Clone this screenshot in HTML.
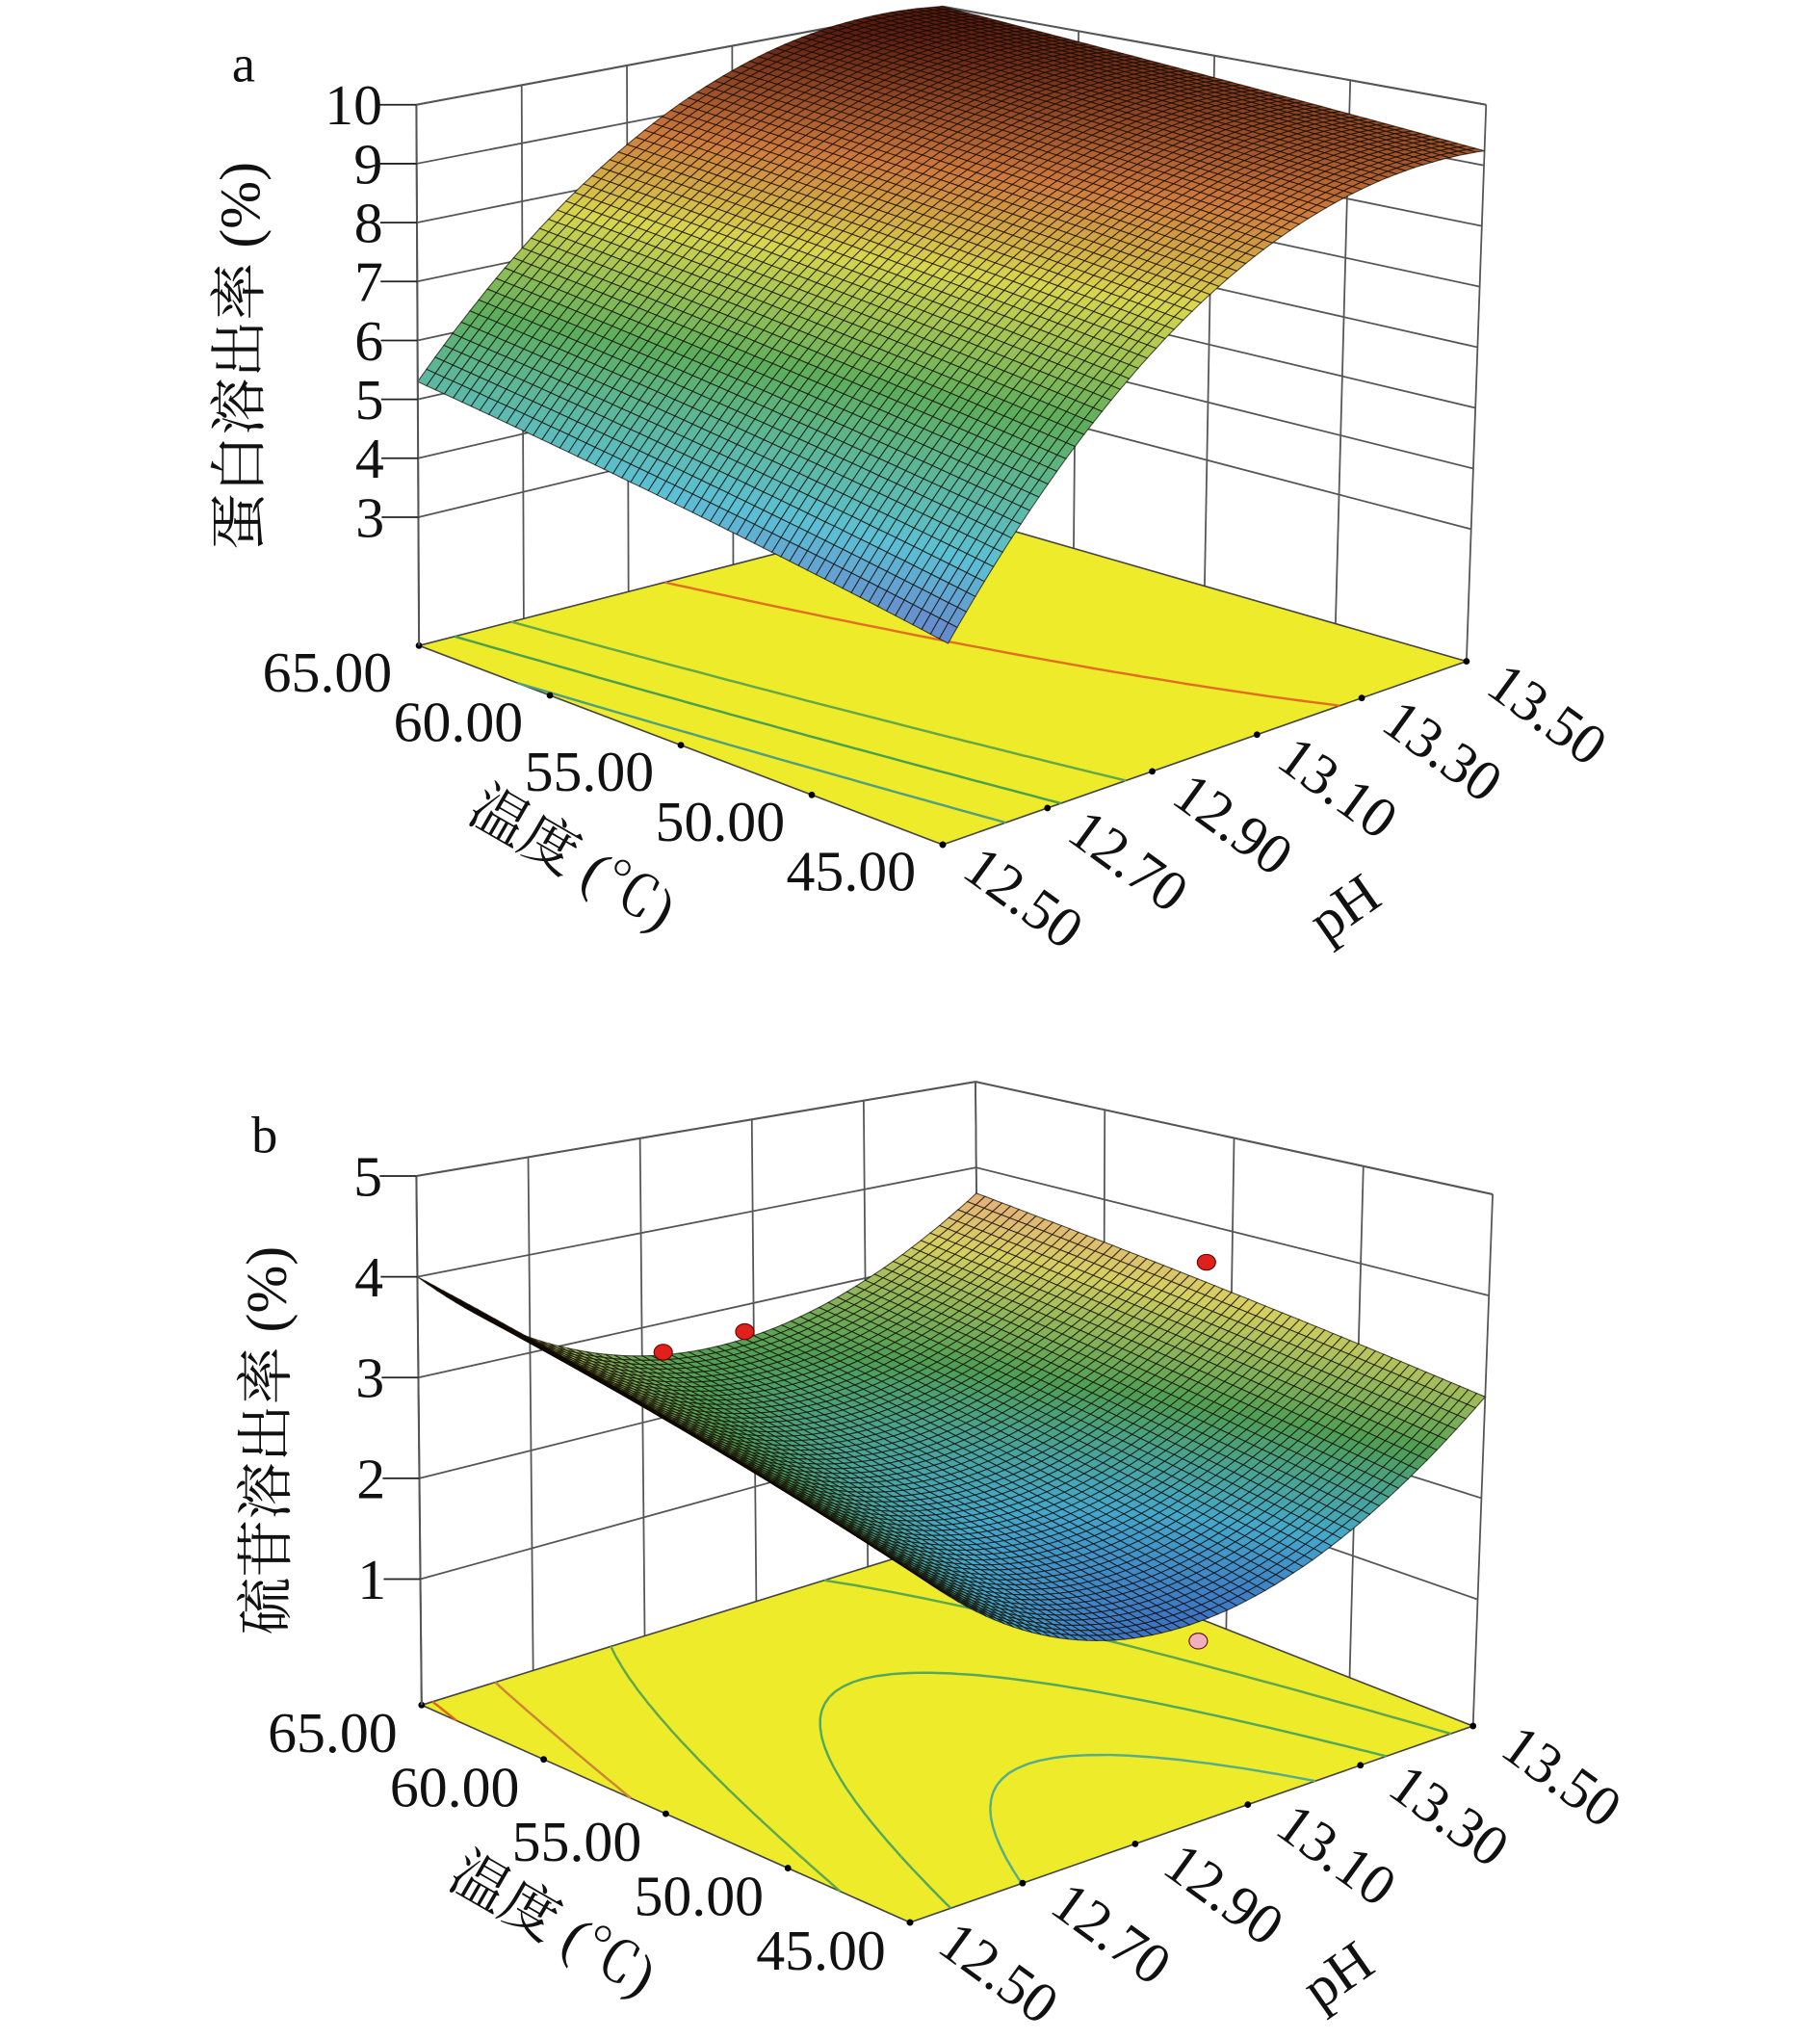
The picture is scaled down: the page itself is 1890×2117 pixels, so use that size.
<!DOCTYPE html>
<html><head><meta charset="utf-8">
<style>
html,body{margin:0;padding:0;background:#fff;}
svg{display:block;}
text{font-family:"Liberation Serif","Noto Serif CJK SC","Noto Sans CJK SC",serif;fill:#111;}
</style></head>
<body>
<svg id="fig" width="1890" height="2117" viewBox="0 0 1390 1557" preserveAspectRatio="none" xmlns="http://www.w3.org/2000/svg">
<rect width="1390" height="1557" fill="#fff"/>
</svg>
<script>
// ---- data ----
const phTicks = [12.50, 12.70, 12.90, 13.10, 13.30, 13.50];
const tempTicks = [45.00, 50.00, 55.00, 60.00, 65.00];
const zTicksA = [3, 4, 5, 6, 7, 8, 9, 10];
const zTicksB = [1, 2, 3, 4, 5];
// response-surface model coefficients: [b0, b1(pH), b2(T), b11, b22, b12]
const coefA = [8.56, 2.56, 0.59, -1.5, 0, -0.21];
const coefB = [2.1, 0.025, 0.525, 1.225, 0, -0.175];
const contourLevelsA = [5, 6, 7, 9];
const contourLevelsB = [1.9, 2.3, 2.8, 3.4, 3.9];
const pointsB = [[12.62, 58, 3.6, 0], [12.72, 57, 3.75, 0], [13.5, 56, 3.6, 0], [13.0, 45, 1.4, 1]];

const svg = document.getElementById('fig');
const NS = 'http://www.w3.org/2000/svg';
function mk(tag, attrs, parent){const e=document.createElementNS(NS,tag);for(const k in attrs)e.setAttribute(k,attrs[k]);(parent||svg).appendChild(e);return e;}

function cmap(stops,t){t=Math.max(0,Math.min(1,t));for(let i=1;i<stops.length;i++){if(t<=stops[i][0]){const a=stops[i-1],b=stops[i];const f=(t-a[0])/(b[0]-a[0]);const ca=hex(a[1]),cb=hex(b[1]);return 'rgb('+ca.map((c,j)=>Math.round(c+(cb[j]-c)*f)).join(',')+')';}}return stops[stops.length-1][1];}
function hex(h){return [1,3,5].map(i=>parseInt(h.substr(i,2),16));}

function makePlot(cfg){
  const g = mk('g',{});
  
  
  const c=cfg.coef;
  const f=(x1,x2)=>c[0]+c[1]*x1+c[2]*x2+c[3]*x1*x1+c[4]*x2*x2+c[5]*x1*x2;
  const C=cfg.corners;
  function bil(a,b,l,bk,u,v){return [(1-u)*(1-v)*a[0]+u*(1-v)*b[0]+(1-u)*v*l[0]+u*v*bk[0],(1-u)*(1-v)*a[1]+u*(1-v)*b[1]+(1-u)*v*l[1]+u*v*bk[1]];}
  function P(u,v,w){const b=bil(C.F0,C.R0,C.L0,C.B0,u,v),t=bil(C.F1,C.R1,C.L1,C.B1,u,v);return [b[0]*(1-w)+t[0]*w,b[1]*(1-w)+t[1]*w];}
  const uOf=ph=>(ph-phTicks[0])/(phTicks[phTicks.length-1]-phTicks[0]);
  const vOf=t=>(t-tempTicks[0])/(tempTicks[tempTicks.length-1]-tempTicks[0]);
  const wOf=z=>(z-cfg.zlo)/(cfg.zhi-cfg.zlo);
  const line=(a,b,col,sw,name)=>{const e=mk('line',{x1:a[0],y1:a[1],x2:b[0],y2:b[1],stroke:col,'stroke-width':sw},g);return e;};
  const gc='#555';
  cfg.zTicks.forEach(z=>{const w=wOf(z);line(P(0,1,w),P(1,1,w),gc,1.3,'left-wall-gridline');line(P(1,1,w),P(1,0,w),gc,1.3,'right-wall-gridline');});
  phTicks.forEach(p=>{const u=uOf(p);line(P(u,1,0),P(u,1,1),gc,1.3,'left-wall-gridline');});
  tempTicks.forEach(t=>{const v=vOf(t);line(P(1,v,0),P(1,v,1),gc,1.3,'right-wall-gridline');});
  line(P(0,1,1),P(1,1,1),gc,1.5,'box-top-edge');line(P(1,1,1),P(1,0,1),gc,1.5,'box-top-edge');
  const fl=[P(0,0,0),P(1,0,0),P(1,1,0),P(0,1,0)];
  const floor=mk('polygon',{points:fl.map(p=>p.join(',')).join(' '),fill:'#eeec2a',stroke:'#444','stroke-width':1.2},g);
  
  
  const N=50;
  cfg.levels.forEach(L=>{
    let d='';
    for(let i=0;i<N;i++)for(let j=0;j<N;j++){
      const us=[i/N,(i+1)/N],vs=[j/N,(j+1)/N];
      const pts=[[us[0],vs[0]],[us[1],vs[0]],[us[1],vs[1]],[us[0],vs[1]]];
      const vals=pts.map(p=>f(p[0]*2-1,p[1]*2-1)-L);
      const cr=[];
      for(let k=0;k<4;k++){const a=vals[k],b=vals[(k+1)%4];if((a<0)!==(b<0)){const t=a/(a-b);const pa=pts[k],pb=pts[(k+1)%4];cr.push([pa[0]+(pb[0]-pa[0])*t,pa[1]+(pb[1]-pa[1])*t]);}}
      for(let k=0;k+1<cr.length;k+=2){const a=P(cr[k][0],cr[k][1],0),b=P(cr[k+1][0],cr[k+1][1],0);d+='M'+a[0].toFixed(1)+' '+a[1].toFixed(1)+'L'+b[0].toFixed(1)+' '+b[1].toFixed(1);}
    }
    const e=mk('path',{d:d,stroke:cmap(cfg.lstops,(L-cfg.cmin)/(cfg.cmax-cfg.cmin)),'stroke-width':1.8,fill:'none'},g);
    
    
  });
  tempTicks.forEach(t=>{const p=P(0,vOf(t),0);const e=mk('circle',{cx:p[0],cy:p[1],r:2.5,fill:'#000'},g);});
  phTicks.forEach(ph=>{const p=P(uOf(ph),0,0);const e=mk('circle',{cx:p[0],cy:p[1],r:2.5,fill:'#000'},g);});
  const M=60;const cells=[];
  const S=(i,j)=>{const u=i/M,v=j/M;const z=f(u*2-1,v*2-1);return P(u,v,wOf(z));};
  for(let i=0;i<M;i++)for(let j=0;j<M;j++){
    const q=[S(i,j),S(i+1,j),S(i+1,j+1),S(i,j+1)];
    const z=f((i+0.5)/M*2-1,(j+0.5)/M*2-1);
    let area=0;for(let k=0;k<4;k++){const a=q[k],b=q[(k+1)%4];area+=a[0]*b[1]-b[0]*a[1];}
    cells.push({q:q,z:z,depth:i+j,back:area*cfg.sign<0});
  }
  cells.sort((a,b)=>b.depth-a.depth);
  const sg=mk('g',{},g);
  
  
  cells.forEach(cl=>{
    const fill=cl.back?'#140a06':cmap(cfg.stops,(cl.z-cfg.cmin)/(cfg.cmax-cfg.cmin));
    const e=mk('polygon',{points:cl.q.map(p=>p[0].toFixed(1)+','+p[1].toFixed(1)).join(' '),fill:fill,stroke:'rgba(15,8,0,0.7)','stroke-width':0.8},sg);
    
    
  });
  (cfg.points||[]).forEach(pt=>{const p=P(uOf(pt[0]),vOf(pt[1]),wOf(pt[2]));const e=mk('ellipse',{cx:p[0],cy:p[1],rx:7,ry:6,fill:pt[3]?'#f0b0c0':'#e0201a',stroke:'#600','stroke-width':0.8},g);});
  line(P(0,1,0),P(0,1,1),gc,1.5,'z-axis-line');
  cfg.zTicks.forEach(z=>{const p=P(0,1,wOf(z));line([p[0]-28,p[1]],p,'#222',1.3,'z-tick');const t=mk('text',{x:p[0]-26,y:p[1]+15,'text-anchor':'end','font-size':44},g);t.textContent=z;});
  tempTicks.forEach(tv=>{const p=P(0,vOf(tv),0);const t=mk('text',{x:p[0]+cfg.tOff[0],y:p[1]+cfg.tOff[1]+15,'text-anchor':'middle','font-size':44},g);t.textContent=tv.toFixed(2);});
  phTicks.forEach(pv=>{const p=P(uOf(pv),0,0);const x=p[0]+cfg.pOff[0],y=p[1]+cfg.pOff[1];const t=mk('text',{x:x,y:y+15,'text-anchor':'middle','font-size':44,transform:'rotate(36 '+x+' '+y+')'},g);t.textContent=pv.toFixed(2);});
  const ttl=mk('text',{x:cfg.zTitle[0],y:cfg.zTitle[1],'text-anchor':'middle','font-size':44,transform:'rotate(-90 '+cfg.zTitle[0]+' '+cfg.zTitle[1]+')'},g);ttl.textContent=cfg.zTitleText;
  
  
  const tt=mk('text',{x:cfg.tTitle[0],y:cfg.tTitle[1],'text-anchor':'middle','font-size':44,transform:'rotate(30 '+cfg.tTitle[0]+' '+cfg.tTitle[1]+')'},g);tt.textContent='温度 (℃)';
  
  
  const pt=mk('text',{x:cfg.pTitle[0],y:cfg.pTitle[1],'text-anchor':'middle','font-size':44,transform:'rotate(-35 '+cfg.pTitle[0]+' '+cfg.pTitle[1]+')'},g);pt.textContent='pH';
  
  
  const pl=mk('text',{x:cfg.panel[0],y:cfg.panel[1],'text-anchor':'middle','font-size':40},g);pl.textContent=cfg.panelText;
  
  
}

makePlot({name:'chart-a',coef:coefA,zTicks:zTicksA,levels:contourLevelsA,zlo:0.82,zhi:10,cmin:3.3,cmax:10,sign:-1,
 stops:[[0,'#6e6cc8'],[0.2,'#5cc0d6'],[0.45,'#5cae5c'],[0.66,'#d8d64e'],[0.82,'#cf7a3c'],[1,'#5a1c10']],
 lstops:[[0,'#5aa0d0'],[0.4,'#4aa050'],[0.7,'#80b040'],[0.85,'#e07020'],[1,'#d05010']],
 corners:{F0:[720,645],R0:[1120,505],L0:[320,493],B0:[720,390],F1:[733,155],R1:[1135,80],L1:[318,80],B1:[720,5]},
 tOff:[-70,20],pOff:[62,40],zTitle:[198,272],zTitleText:'蛋白溶出率 (%)',tTitle:[430,668],pTitle:[1035,705],panel:[186,62],panelText:'a'});
makePlot({name:'chart-b',coef:coefB,zTicks:zTicksB,levels:contourLevelsB,zlo:-0.25,zhi:5,cmin:1.4,cmax:4.0,sign:-1,points:pointsB,
 stops:[[0,'#3a5cc0'],[0.22,'#44a8cc'],[0.45,'#4e9e54'],[0.72,'#d6d060'],[1,'#ec9890']],
 lstops:[[0,'#60b8d0'],[0.3,'#50a860'],[0.6,'#60a848'],[0.8,'#e08030'],[1,'#e06010']],
 corners:{F0:[695,1468],R0:[1125,1318],L0:[322,1302],B0:[748,1170],F1:[713,984],R1:[1140,912],L1:[318,898],B1:[745,826]},
 tOff:[-68,21],pOff:[68,38],zTitle:[218,1100],zTitleText:'硫苷溶出率 (%)',tTitle:[415,1482],pTitle:[1030,1520],panel:[202,880],panelText:'b'});
</script>
</body></html>
